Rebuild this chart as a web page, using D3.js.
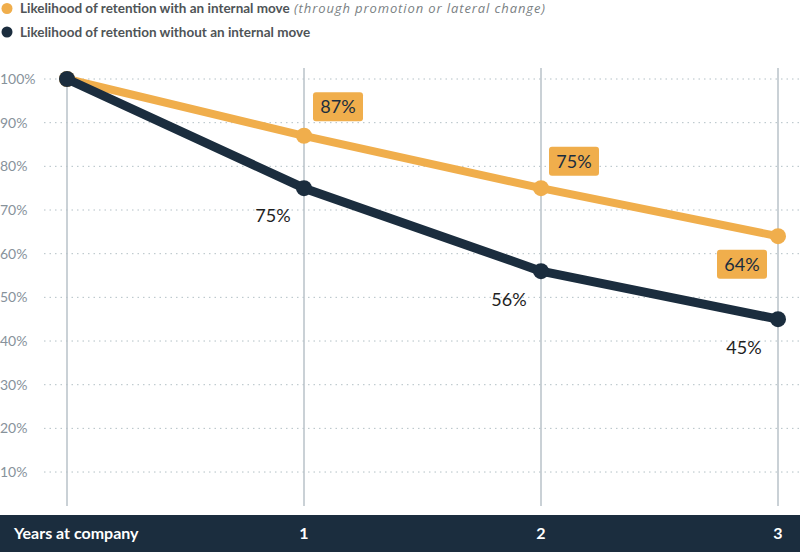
<!DOCTYPE html>
<html>
<head>
<meta charset="utf-8">
<script src="https://cdn.jsdelivr.net/npm/d3@7"></script>
<style>
  body { margin: 0; background: #fff; }
  svg { display: block; font-family: Lato, "Open Sans", sans-serif; }
</style>
</head>
<body>
<div id="chart"></div>
<script>
// data
const years = [0, 1, 2, 3];
const withMove = [100, 87, 75, 64];
const withoutMove = [100, 75, 56, 45];
const yTicks = [10, 20, 30, 40, 50, 60, 70, 80, 90, 100];
const xTickLabels = ["", "1", "2", "3"];

const width = 800, height = 552;
const orange = "#f0ae4c", navy = "#1b2d3e";

const x = d3.scaleLinear().domain([0, 3]).range([67, 778]);
const y = d3.scaleLinear().domain([0, 100]).range([515.7, 79]);

const svg = d3.select("#chart").append("svg")
    .attr("width", width)
    .attr("height", height);

// legend
const legend = [
    { color: orange, main: "Likelihood of retention with an internal move", note: "(through promotion or lateral change)" },
    { color: navy, main: "Likelihood of retention without an internal move", note: "" }
];
const lg = svg.selectAll(".legend").data(legend).enter()
    .append("g")
    .attr("transform", (d, i) => `translate(0, ${8.5 + i * 23.5})`);
lg.append("circle").attr("cx", 7).attr("cy", 0).attr("r", 5.5).attr("fill", d => d.color);
lg.append("text").attr("x", 20).attr("y", 4.5)
    .style("font-size", "13.5px").style("font-weight", 700)
    .attr("fill", "#4f5457")
    .text(d => d.main);
lg.filter(d => d.note).append("text")
    .attr("x", 294).attr("y", 4.5)
    .style("font-family", "'Open Sans', sans-serif")
    .style("font-size", "13px").style("font-style", "italic")
    .attr("textLength", 251).attr("lengthAdjust", "spacing")
    .attr("fill", "#7a7f83")
    .text(d => d.note);

// horizontal gridlines
svg.append("g").selectAll("line").data(yTicks).enter()
    .append("line")
    .attr("x1", 44).attr("x2", width)
    .attr("y1", d => y(d)).attr("y2", d => y(d))
    .attr("stroke", "#b3c0c6")
    .attr("stroke-width", 1)
    .attr("stroke-dasharray", "1.5,4");

// y labels
svg.append("g").selectAll("text").data(yTicks).enter()
    .append("text")
    .attr("x", 0).attr("y", d => y(d) + 5)
    .style("font-size", "14px")
    .attr("fill", "#87929b")
    .text(d => d + "%");

// vertical lines
svg.append("g").selectAll("line").data(years).enter()
    .append("line")
    .attr("x1", d => x(d)).attr("x2", d => x(d))
    .attr("y1", d => d === 0 ? y(100) : 68).attr("y2", 506)
    .attr("stroke", "#b9c2c9")
    .attr("stroke-width", 1.5);

// bottom band
svg.append("rect")
    .attr("x", 0).attr("y", 515).attr("width", width).attr("height", height - 515)
    .attr("fill", navy);
svg.append("text")
    .attr("x", 14).attr("y", 539)
    .style("font-size", "16px").style("font-weight", 700)
    .attr("fill", "#fff")
    .text("Years at company");
svg.append("g").selectAll("text").data(years.filter(d => d > 0)).enter()
    .append("text")
    .attr("x", d => x(d)).attr("y", 539)
    .attr("text-anchor", "middle")
    .style("font-size", "16px").style("font-weight", 700)
    .attr("fill", "#fff")
    .text(d => xTickLabels[d]);

const line = d3.line().x(d => x(d[0])).y(d => y(d[1]));

const series = [
    { values: withMove, color: orange, w: 8 },
    { values: withoutMove, color: navy, w: 9 }
];
series.forEach(s => {
    const pts = years.map((yr, i) => [yr, s.values[i]]);
    svg.append("path").datum(pts)
        .attr("d", line)
        .attr("fill", "none")
        .attr("stroke", s.color)
        .attr("stroke-width", s.w)
        .attr("stroke-linejoin", "round");
    svg.append("g").selectAll("circle").data(pts).enter()
        .append("circle")
        .attr("cx", d => x(d[0])).attr("cy", d => y(d[1]))
        .attr("r", 8)
        .attr("fill", s.color);
});

// orange labelled boxes
const boxOffsets = [null, { dx: 34, dy: -29 }, { dx: 33, dy: -27 }, { dx: -36, dy: 28 }];
years.forEach((yr, i) => {
    const o = boxOffsets[i];
    if (!o) return;
    const cx = x(yr) + o.dx, cy = y(withMove[i]) + o.dy;
    svg.append("rect")
        .attr("x", cx - 25).attr("y", cy - 14.5)
        .attr("width", 50).attr("height", 29)
        .attr("rx", 3)
        .attr("fill", orange);
    svg.append("text")
        .attr("x", cx).attr("y", cy + 6.5)
        .attr("text-anchor", "middle")
        .style("font-size", "18px")
        .attr("fill", navy)
        .text(withMove[i] + "%");
});

// navy labels
const navyOffsets = [null, { dx: -31, dy: 34 }, { dx: -32, dy: 35 }, { dx: -34, dy: 35 }];
years.forEach((yr, i) => {
    const o = navyOffsets[i];
    if (!o) return;
    svg.append("text")
        .attr("x", x(yr) + o.dx).attr("y", y(withoutMove[i]) + o.dy)
        .attr("text-anchor", "middle")
        .style("font-size", "18px")
        .attr("fill", "#1f1f1f")
        .text(withoutMove[i] + "%");
});
</script>
</body>
</html>
